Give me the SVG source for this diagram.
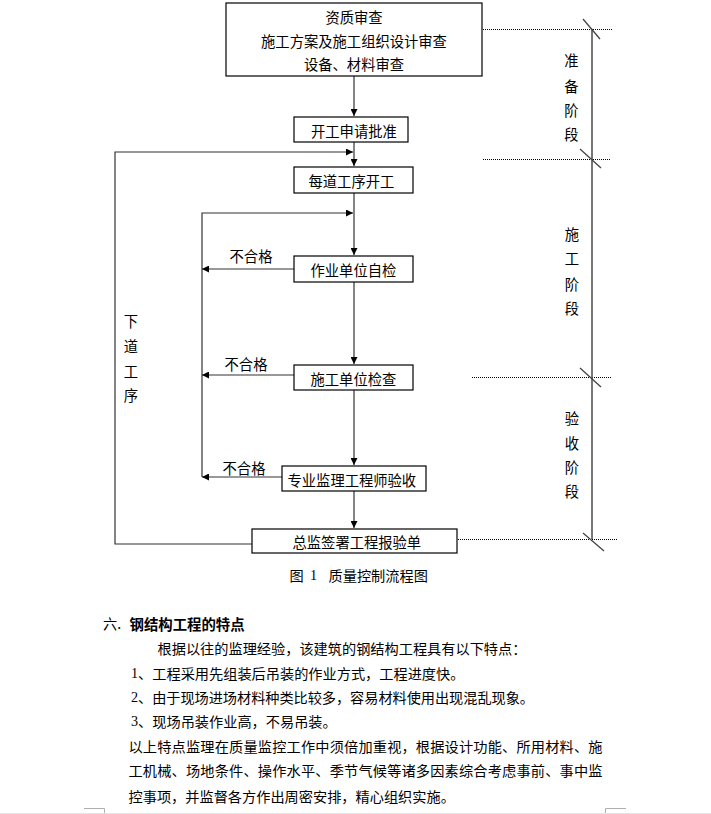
<svg xmlns="http://www.w3.org/2000/svg" width="711" height="814" viewBox="0 0 711 814">
<defs>
<style>
.box{fill:#fff;stroke:#000;stroke-width:1.2}
.t{font-family:"Noto Sans CJK SC","Noto Sans",sans-serif;font-size:14.3px;fill:#000;dominant-baseline:central}
.b{font-family:"Noto Sans CJK SC","Noto Sans",sans-serif;font-size:14.2px;fill:#000;dominant-baseline:central}
.c{fill:none;stroke:#333;stroke-width:1.2}
.dot{fill:none;stroke:#000;stroke-width:1;stroke-dasharray:1 1}
.stage{fill:none;stroke:#555;stroke-width:1.6}
.tick{fill:none;stroke:#444;stroke-width:1.3}
.mark{fill:none;stroke:#b0b0b0;stroke-width:1}
.num{font-family:"Liberation Serif",serif}
</style>
<marker id="ah" viewBox="0 0 10 10" refX="10" refY="5" markerWidth="7" markerHeight="7" markerUnits="userSpaceOnUse" orient="auto">
<path d="M0,0 L10,5 L0,10 z" fill="#000"/>
</marker>
</defs>
<rect width="711" height="814" fill="#fff"/>

<g id="connectors">
<line class="c" x1="354" y1="76" x2="354" y2="116" marker-end="url(#ah)"/>
<line class="c" x1="354" y1="142" x2="354" y2="166" marker-end="url(#ah)"/>
<polyline class="c" points="252,544 115,544 115,152 353,152" marker-end="url(#ah)"/>
<line class="c" x1="354" y1="193" x2="354" y2="255" marker-end="url(#ah)"/>
<polyline class="c" points="202,477 202,213 353,213" marker-end="url(#ah)"/>
<line class="c" x1="294" y1="269" x2="202" y2="269" marker-end="url(#ah)"/>
<line class="c" x1="354" y1="282" x2="354" y2="364" marker-end="url(#ah)"/>
<line class="c" x1="294" y1="375" x2="202" y2="375" marker-end="url(#ah)"/>
<line class="c" x1="354" y1="390" x2="354" y2="465" marker-end="url(#ah)"/>
<line class="c" x1="282" y1="477" x2="202" y2="477" marker-end="url(#ah)"/>
<line class="c" x1="354" y1="491" x2="354" y2="528" marker-end="url(#ah)"/>
</g>

<g id="n1">
<rect class="box" x="226" y="3" width="256" height="73"/>
<text class="t" x="354" y="16" text-anchor="middle">资质审查</text>
<text class="t" x="354" y="40" text-anchor="middle">施工方案及施工组织设计审查</text>
<text class="t" x="354" y="63" text-anchor="middle">设备、材料审查</text>
</g>
<g id="n2">
<rect class="box" x="294" y="117" width="114" height="25"/>
<text class="t" x="311" y="130">开工申请批准</text>
</g>
<g id="n3">
<rect class="box" x="294" y="167" width="119" height="26"/>
<text class="t" x="308.5" y="180.5">每道工序开工</text>
</g>
<g id="n4">
<rect class="box" x="294" y="256" width="119" height="26"/>
<text class="t" x="310.5" y="269.5">作业单位自检</text>
</g>
<g id="n5">
<rect class="box" x="294" y="365" width="119" height="25"/>
<text class="t" x="310.5" y="378">施工单位检查</text>
</g>
<g id="n6">
<rect class="box" x="282" y="466" width="144" height="25"/>
<text class="t" x="287.5" y="479">专业监理工程师验收</text>
</g>
<g id="n7">
<rect class="box" x="252" y="529" width="205" height="24"/>
<text class="t" x="292.5" y="541.5">总监签署工程报验单</text>
</g>

<g id="labels">
<text class="t" x="251" y="255" text-anchor="middle">不合格</text>
<text class="t" x="246" y="363" text-anchor="middle">不合格</text>
<text class="t" x="244" y="467" text-anchor="middle">不合格</text>
<text class="t" x="131" y="320" text-anchor="middle">下</text>
<text class="t" x="131" y="345" text-anchor="middle">道</text>
<text class="t" x="131" y="370" text-anchor="middle">工</text>
<text class="t" x="131" y="394" text-anchor="middle">序</text>
</g>

<g id="stages">
<line class="dot" x1="483" y1="29.5" x2="613" y2="29.5"/>
<line class="dot" x1="483" y1="159.5" x2="610" y2="159.5"/>
<line class="dot" x1="472" y1="377.5" x2="611" y2="377.5"/>
<line class="dot" x1="458" y1="539.5" x2="617" y2="539.5"/>
<line class="stage" x1="592" y1="29" x2="592" y2="539"/>
<line class="tick" x1="583" y1="19" x2="600" y2="39"/>
<line class="tick" x1="580" y1="149" x2="601" y2="168"/>
<line class="tick" x1="580" y1="368" x2="601" y2="387"/>
<line class="tick" x1="583" y1="533" x2="604" y2="551"/>
<text class="t" x="571.5" y="59" text-anchor="middle">准</text>
<text class="t" x="571.5" y="85" text-anchor="middle">备</text>
<text class="t" x="571.5" y="109" text-anchor="middle">阶</text>
<text class="t" x="571.5" y="133" text-anchor="middle">段</text>
<text class="t" x="572" y="233" text-anchor="middle">施</text>
<text class="t" x="572" y="257" text-anchor="middle">工</text>
<text class="t" x="572" y="283" text-anchor="middle">阶</text>
<text class="t" x="572" y="307" text-anchor="middle">段</text>
<text class="t" x="572" y="417" text-anchor="middle">验</text>
<text class="t" x="572" y="442" text-anchor="middle">收</text>
<text class="t" x="572" y="466" text-anchor="middle">阶</text>
<text class="t" x="572" y="490" text-anchor="middle">段</text>
</g>

<g id="caption">
<text class="b" x="289.5" y="575">图</text>
<text class="b num" x="310" y="575">1</text>
<text class="b" x="328.5" y="575">质量控制流程图</text>
</g>

<g id="body">
<text class="b" x="103" y="623">六.</text>
<text class="b" x="129.5" y="623" font-weight="bold" style="font-size:14.4px">钢结构工程的特点</text>
<text class="b" x="157.5" y="648">根据以往的监理经验，该建筑的钢结构工程具有以下特点：</text>
<text class="b" x="131" y="673"><tspan class="num">1</tspan>、工程采用先组装后吊装的作业方式，工程进度快。</text>
<text class="b" x="131" y="697" textLength="403" lengthAdjust="spacing"><tspan class="num">2</tspan>、由于现场进场材料种类比较多，容易材料使用出现混乱现象。</text>
<text class="b" x="131" y="721"><tspan class="num">3</tspan>、现场吊装作业高，不易吊装。</text>
<text class="b" x="128.5" y="746" textLength="474" lengthAdjust="spacing">以上特点监理在质量监控工作中须倍加重视，根据设计功能、所用材料、施</text>
<text class="b" x="128.5" y="770" textLength="474" lengthAdjust="spacing">工机械、场地条件、操作水平、季节气候等诸多因素综合考虑事前、事中监</text>
<text class="b" x="128.5" y="796">控事项，并监督各方作出周密安排，精心组织实施。</text>
</g>

<g id="page">
<polyline class="mark" points="84,808.5 104.5,808.5 104.5,814"/>
<polyline class="mark" points="605.5,814 605.5,808.5 626,808.5"/>
<line x1="0" y1="813.5" x2="711" y2="813.5" stroke="#e4e4e4" stroke-width="1"/>
</g>
</svg>
